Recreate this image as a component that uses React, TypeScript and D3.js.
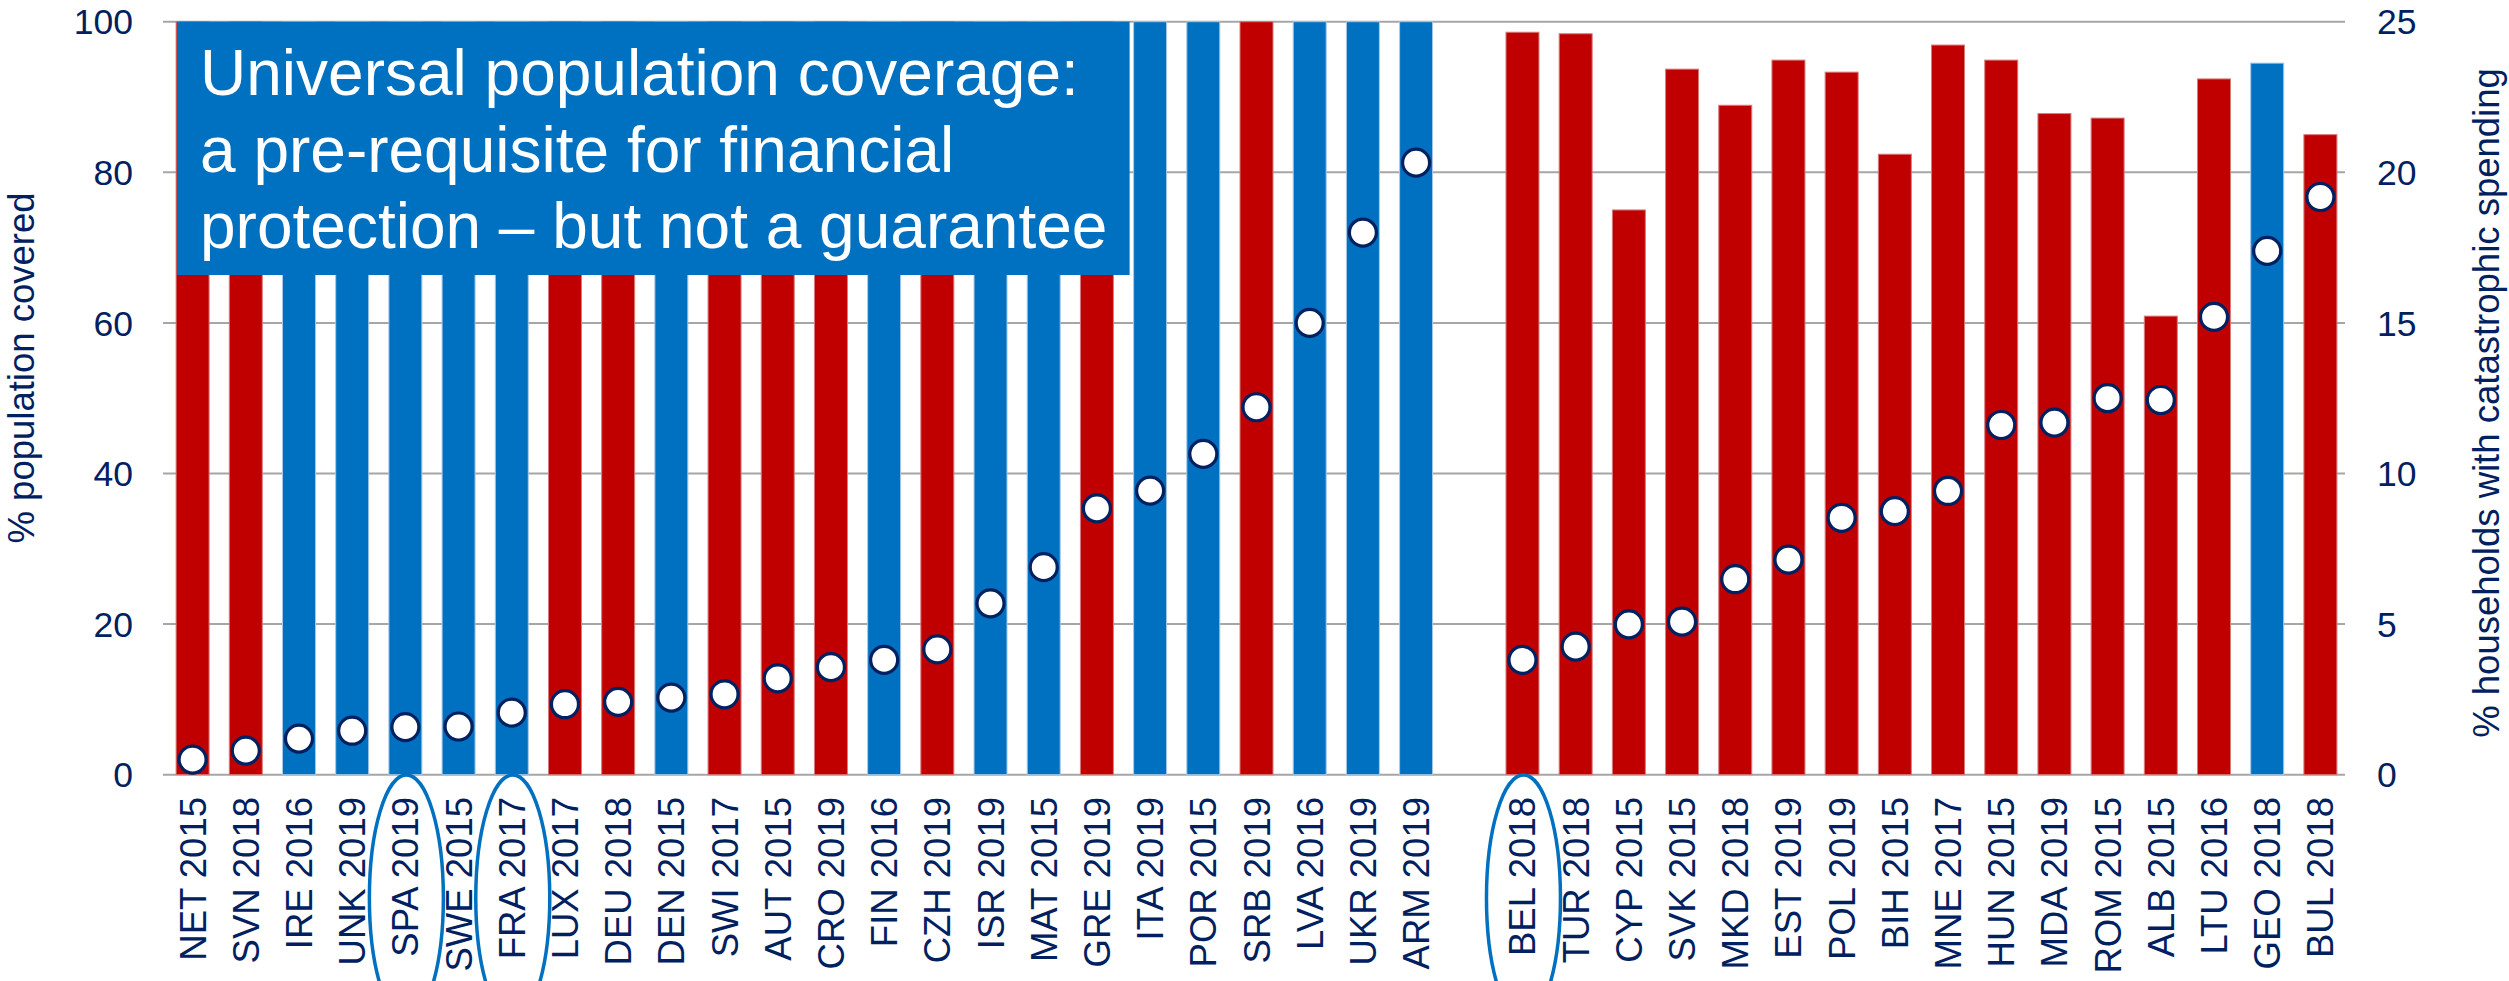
import React from "react";
import * as d3 from "d3";

// ---- Data ----
const categoriesA = [
  "NET 2015", "SVN 2018", "IRE 2016", "UNK 2019", "SPA 2019", "SWE 2015", "FRA 2017", "LUX 2017",
  "DEU 2018", "DEN 2015", "SWI 2017", "AUT 2015", "CRO 2019", "FIN 2016", "CZH 2019", "ISR 2019",
  "MAT 2015", "GRE 2019", "ITA 2019", "POR 2015", "SRB 2019", "LVA 2016", "UKR 2019", "ARM 2019",
];
const coverageA = [
  100, 100, 100, 100, 100, 100, 100, 100, 100, 100, 100, 100,
  100, 100, 100, 100, 100, 100, 100, 100, 100, 100, 100, 100,
];
const catastrophicA = [
  0.5, 0.8, 1.2, 1.46, 1.58, 1.6, 2.06, 2.34, 2.42, 2.56, 2.67, 3.2,
  3.57, 3.81, 4.16, 5.69, 6.89, 8.84, 9.43, 10.65, 12.2, 15.0, 18.0, 20.32,
];
const groupA = [
  "red", "red", "blue", "blue", "blue", "blue", "blue", "red", "red", "blue", "red", "red",
  "red", "blue", "red", "blue", "blue", "red", "blue", "blue", "red", "blue", "blue", "blue",
];

const categoriesB = [
  "BEL 2018", "TUR 2018", "CYP 2015", "SVK 2015", "MKD 2018", "EST 2019", "POL 2019", "BIH 2015",
  "MNE 2017", "HUN 2015", "MDA 2019", "ROM 2015", "ALB 2015", "LTU 2016", "GEO 2018", "BUL 2018",
];
const coverageB = [98.6, 98.4, 75.0, 93.7, 88.9, 94.9, 93.3, 82.4, 96.9, 94.9, 87.8, 87.2, 60.9, 92.4, 94.5, 85.0];
const catastrophicB = [3.81, 4.25, 4.99, 5.08, 6.49, 7.14, 8.53, 8.75, 9.42, 11.61, 11.69, 12.5, 12.44, 15.2, 17.39, 19.18];
const groupB = [
  "red", "red", "red", "red", "red", "red", "red", "red",
  "red", "red", "red", "red", "red", "red", "blue", "red",
];

const highlighted = ["SPA 2019", "FRA 2017", "BEL 2018"];
const leftTicks = [0, 20, 40, 60, 80, 100];
const rightTicks = [0, 5, 10, 15, 20, 25];
const titleLines = [
  "Universal population coverage:",
  "a pre-requisite for financial",
  "protection \u2013 but not a guarantee",
];
const leftAxisTitle = "% population covered";
const rightAxisTitle = "% households with catastrophic spending";

const GAP = "__gap__";

const COLORS: Record<string, string> = { red: "#C00000", blue: "#0070C0" };
const NAVY = "#002060";
const GRID = "#A6A6A6";

export default function App() {
  const W = 2509;
  const H = 981;
  const left = 166;
  const right = 2347;
  const top = 21.7;
  const bottom = 774.7;

  const rows = [
    ...categoriesA.map((c, i) => ({ c, cov: coverageA[i], cat: catastrophicA[i], g: groupA[i] })),
    ...categoriesB.map((c, i) => ({ c, cov: coverageB[i], cat: catastrophicB[i], g: groupB[i] })),
  ];
  const domain = [...categoriesA, GAP, ...categoriesB];

  const x = d3.scaleBand<string>().domain(domain).range([left, right]).paddingInner(0.38).paddingOuter(0.19);
  const yL = d3.scaleLinear().domain([0, 100]).range([bottom, top]);
  const yR = d3.scaleLinear().domain([0, 25]).range([bottom, top]);
  const bw = x.bandwidth();
  const cx = (c: string) => (x(c) as number) + bw / 2;

  const font = "'Liberation Sans', Arial, sans-serif";

  const boxX = (x(categoriesA[0]) as number) + 1;
  const boxR = (x("ITA 2019") as number) - 4;
  const boxBottom = 275;

  return (
    <svg width={W} height={H} style={{ position: "absolute", left: 0, top: 0, background: "#fff" }}>
      {/* gridlines */}
      {leftTicks.map((t) => (
        <line key={"g" + t} x1={left - 3} x2={2345} y1={yL(t)} y2={yL(t)} stroke={GRID} strokeWidth={2} />
      ))}
      {/* bars */}
      {rows.map((r) => (
        <rect
          key={"b" + r.c}
          x={x(r.c)}
          y={yL(r.cov)}
          width={bw}
          height={bottom - yL(r.cov)}
          fill={COLORS[r.g]}
          stroke={r.g === "red" ? "#D9797A" : "#A9C8E6"}
          strokeWidth={1}
        />
      ))}
      {/* title box */}
      <rect x={boxX} y={top} width={boxR - boxX} height={boxBottom - top} fill="#0070C0" />
      {titleLines.map((t, i) => (
        <text key={"t" + i} x={200} y={95 + i * 76.5} fill="#fff" fontFamily={font} fontSize={64}>
          {t}
        </text>
      ))}
      {/* dots */}
      {rows.map((r) => (
        <circle key={"d" + r.c} cx={cx(r.c)} cy={yR(r.cat)} r={13.5} fill="#fff" stroke={NAVY} strokeWidth={3.2} />
      ))}
      {/* left axis labels */}
      {leftTicks.map((t) => (
        <text key={"l" + t} x={133} y={yL(t)} dy="0.36em" textAnchor="end" fill={NAVY} fontFamily={font} fontSize={35.5}>
          {t}
        </text>
      ))}
      {/* right axis labels */}
      {rightTicks.map((t) => (
        <text key={"r" + t} x={2377} y={yR(t)} dy="0.36em" textAnchor="start" fill={NAVY} fontFamily={font} fontSize={35.5}>
          {t}
        </text>
      ))}
      {/* category labels */}
      {rows.map((r) => (
        <text
          key={"x" + r.c}
          transform={`translate(${cx(r.c) + 13},${797}) rotate(-90)`}
          textAnchor="end"
          fill={NAVY}
          fontFamily={font}
          fontSize={36.5}
        >
          {r.c}
        </text>
      ))}
      {/* highlight ellipses */}
      {highlighted.map((c) => (
        <ellipse key={"e" + c} cx={cx(c) + 1} cy={898} rx={37} ry={123} fill="none" stroke="#0070C0" strokeWidth={3.5} />
      ))}
      {/* axis titles */}
      <text
        transform={`translate(34,${368}) rotate(-90)`}
        textAnchor="middle"
        fill={NAVY}
        fontFamily={font}
        fontSize={36.5}
      >
        {leftAxisTitle}
      </text>
      <text
        transform={`translate(2499,${403}) rotate(-90)`}
        textAnchor="middle"
        fill={NAVY}
        fontFamily={font}
        fontSize={36.5}
      >
        {rightAxisTitle}
      </text>
    </svg>
  );
}
